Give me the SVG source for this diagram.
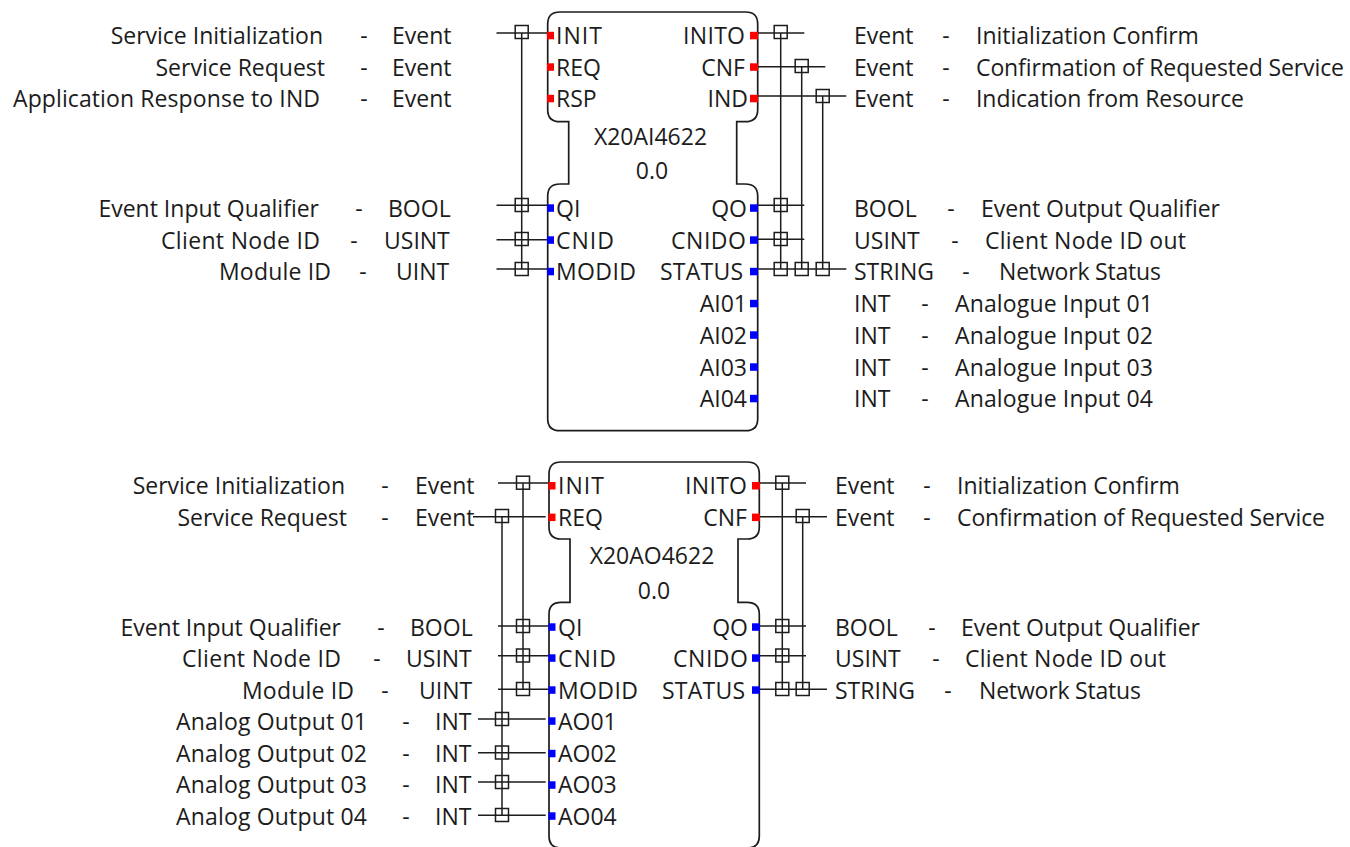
<svg xmlns="http://www.w3.org/2000/svg" width="1350" height="847" viewBox="0 0 1350 847">
<style>
text{font-family:"Open Sans","Noto Sans","Liberation Sans",sans-serif;font-size:23px;fill:#1c1c1c}
.e{text-anchor:end}.m{text-anchor:middle}
.b{fill:#fff;stroke:#1c1c1c;stroke-width:1.7}
.w path{fill:none;stroke:#1c1c1c;stroke-width:1.5}
.w use{fill:none;stroke:#1c1c1c;stroke-width:1.5}
.r{fill:#f00}.u{fill:#00f}
</style>
<defs>
<rect id="x" x="-6.5" y="-6.5" width="13" height="13"/>
<rect id="lr" class="r" x="0" y="-3.7" width="7" height="7.5"/>
<rect id="lb" class="u" x="0" y="-3.7" width="7" height="7.5"/>
<rect id="rr" class="r" x="0" y="-3.7" width="8" height="7.5"/>
<rect id="rb" class="u" x="0" y="-3.7" width="8" height="7.5"/>
</defs>
<g id="connectors" class="w">
<path d="M496.5 33H547M496.5 205.3H547M496.5 239.7H547M496.5 269H547M521.7 33V269M757 33H804.3M757 66.7H825.3M757 96H846.3M757 205.3H804.3M757 239.3H804.3M757 269H846.3M780.7 33V269M801.7 66.7V269M822.7 96V269"/>
<use href="#x" x="521.7" y="32"/><use href="#x" x="521.7" y="205"/><use href="#x" x="521.7" y="239"/><use href="#x" x="521.7" y="269"/>
<use href="#x" x="780.7" y="32"/><use href="#x" x="801.7" y="66"/><use href="#x" x="822.7" y="96"/><use href="#x" x="780.7" y="205"/><use href="#x" x="780.7" y="239"/><use href="#x" x="780.7" y="269"/><use href="#x" x="801.7" y="269"/><use href="#x" x="822.7" y="269"/>
<path d="M498 483H549M473 516.7H545.7M498 626H549M498 655.7H549M498 689.3H549M478 719H545.7M478 752.7H545.7M478 782H545.7M478 815.3H545.7M523 483V689.3M502 516.7V815.3M759 483H806M759 516.7H827M759 626H806M759 655.7H806M759 689.3H827M782.3 483V689.3M802.7 516.7V689.3"/>
<use href="#x" x="523" y="482.7"/><use href="#x" x="502" y="516"/><use href="#x" x="523" y="626"/><use href="#x" x="523" y="655.5"/><use href="#x" x="523" y="689"/><use href="#x" x="502" y="719"/><use href="#x" x="502" y="752.5"/><use href="#x" x="502" y="782"/><use href="#x" x="502" y="815"/>
<use href="#x" x="782.3" y="482.7"/><use href="#x" x="802.7" y="516"/><use href="#x" x="782.3" y="626"/><use href="#x" x="782.3" y="655.5"/><use href="#x" x="782.3" y="689"/><use href="#x" x="802.7" y="689"/>
</g>
<g id="X20AI4622">
<path class="b" d="M560 12H745.7Q757.7 12 757.7 24V109.7Q757.7 121.7 745 121.7H736.7V184H745Q757.7 184 757.7 196V418.7Q757.7 430.7 745.7 430.7H560Q547.7 430.7 547.7 418.7V196Q547.7 184 560 184H568.7V121.7H560Q547.7 121.7 547.7 109.7V24Q547.7 12 560 12Z"/>
<use href="#lr" x="547" y="35.5"/><use href="#lr" x="547" y="67"/><use href="#lr" x="547" y="98.5"/><use href="#lb" x="547" y="208"/><use href="#lb" x="547" y="240"/><use href="#lb" x="547" y="271.5"/>
<use href="#rr" x="750" y="35.5"/><use href="#rr" x="750" y="67"/><use href="#rr" x="750" y="98.5"/><use href="#rb" x="750" y="208"/><use href="#rb" x="750" y="240"/><use href="#rb" x="750" y="271.5"/><use href="#rb" x="750" y="303.5"/><use href="#rb" x="750" y="335"/><use href="#rb" x="750" y="367"/><use href="#rb" x="750" y="398.5"/>
<text x="556" y="43.5" textLength="46">INIT</text><text x="556" y="75.5">REQ</text><text x="556" y="107">RSP</text><text x="556" y="216.5">QI</text><text x="556" y="248.5" textLength="58">CNID</text><text x="556" y="280" textLength="80">MODID</text>
<text class="e" x="745" y="43.5" textLength="62">INITO</text><text class="e" x="745" y="75.5">CNF</text><text class="e" x="748" y="107">IND</text><text class="e" x="747" y="216.5">QO</text><text class="e" x="746" y="248.5" textLength="75">CNIDO</text><text class="e" x="743" y="280" textLength="83">STATUS</text><text class="e" x="747" y="311.5">AI01</text><text class="e" x="747" y="343.5">AI02</text><text class="e" x="747" y="375.5">AI03</text><text class="e" x="747" y="407">AI04</text>
<text class="m" x="650.5" y="145">X20AI4622</text><text class="m" x="652" y="178.5">0.0</text>
</g>
<g id="X20AO4622">
<path class="b" d="M561 462H747.3Q759.3 462 759.3 474V527Q759.3 539 747 539H738V602.3H747Q759.3 602.3 759.3 614.3V836Q759.3 848 747.3 848H561Q549 848 549 836V614.3Q549 602.3 561 602.3H570V539H561Q549 539 549 527V474Q549 462 561 462Z"/>
<use href="#lr" x="548.5" y="485.7"/><use href="#lr" x="548.5" y="517.3"/><use href="#lb" x="548.5" y="627"/><use href="#lb" x="548.5" y="658"/><use href="#lb" x="548.5" y="690"/><use href="#lb" x="548.5" y="721"/><use href="#lb" x="548.5" y="753.5"/><use href="#lb" x="548.5" y="785"/><use href="#lb" x="548.5" y="816"/>
<use href="#rr" x="752" y="485.7"/><use href="#rr" x="752" y="517.3"/><use href="#rb" x="752" y="627"/><use href="#rb" x="752" y="658"/><use href="#rb" x="752" y="690"/>
<text x="558" y="494" textLength="46">INIT</text><text x="558" y="526">REQ</text><text x="558" y="635.5">QI</text><text x="558" y="666.5" textLength="58">CNID</text><text x="558" y="698.5" textLength="80">MODID</text><text x="558" y="730">AO01</text><text x="558" y="761.5">AO02</text><text x="558" y="793">AO03</text><text x="558" y="825">AO04</text>
<text class="e" x="747" y="494" textLength="62">INITO</text><text class="e" x="747" y="526">CNF</text><text class="e" x="748" y="635.5">QO</text><text class="e" x="748" y="666.5" textLength="75">CNIDO</text><text class="e" x="745" y="698.5" textLength="83">STATUS</text>
<text class="m" x="652" y="564">X20AO4622</text><text class="m" x="654" y="598.5">0.0</text>
</g>
<g id="labels-ai">
<text class="e" x="323" y="43.5">Service Initialization</text><text class="m" x="364" y="43.5">-</text><text x="392" y="43.5">Event</text>
<text class="e" x="325" y="75.5">Service Request</text><text class="m" x="364" y="75.5">-</text><text x="392" y="75.5">Event</text>
<text class="e" x="320" y="106.5" textLength="307">Application Response to IND</text><text class="m" x="364" y="106.5">-</text><text x="392" y="106.5">Event</text>
<text class="e" x="319" y="216.5">Event Input Qualifier</text><text class="m" x="359" y="216.5">-</text><text x="388" y="216.5">BOOL</text>
<text class="e" x="320" y="248.5" textLength="159">Client Node ID</text><text class="m" x="354" y="248.5">-</text><text x="384" y="248.5">USINT</text>
<text class="e" x="331" y="280" textLength="112">Module ID</text><text class="m" x="363" y="280">-</text><text x="396" y="280">UINT</text>
<text x="854" y="43.5">Event</text><text class="m" x="946" y="43.5">-</text><text x="976" y="43.5">Initialization Confirm</text>
<text x="854" y="75.5">Event</text><text class="m" x="946" y="75.5">-</text><text x="976" y="75.5" textLength="368">Confirmation of Requested Service</text>
<text x="854" y="106.5">Event</text><text class="m" x="946" y="106.5">-</text><text x="976" y="106.5" textLength="268">Indication from Resource</text>
<text x="854" y="216.5">BOOL</text><text class="m" x="951" y="216.5">-</text><text x="981" y="216.5" textLength="239">Event Output Qualifier</text>
<text x="854" y="248.5">USINT</text><text class="m" x="955" y="248.5">-</text><text x="985" y="248.5" textLength="201">Client Node ID out</text>
<text x="854" y="280">STRING</text><text class="m" x="966" y="280">-</text><text x="999" y="280" textLength="162">Network Status</text>
<text x="854" y="311.5">INT</text><text class="m" x="925" y="311.5">-</text><text x="955" y="311.5" textLength="198">Analogue Input 01</text>
<text x="854" y="343.5">INT</text><text class="m" x="925" y="343.5">-</text><text x="955" y="343.5" textLength="198">Analogue Input 02</text>
<text x="854" y="375.5">INT</text><text class="m" x="925" y="375.5">-</text><text x="955" y="375.5" textLength="198">Analogue Input 03</text>
<text x="854" y="407">INT</text><text class="m" x="925" y="407">-</text><text x="955" y="407" textLength="198">Analogue Input 04</text>
</g>
<g id="labels-ao">
<text class="e" x="345" y="494">Service Initialization</text><text class="m" x="385" y="494">-</text><text x="415" y="494">Event</text>
<text class="e" x="347" y="526">Service Request</text><text class="m" x="385" y="526">-</text><text x="415" y="526">Event</text>
<text class="e" x="341" y="635.5">Event Input Qualifier</text><text class="m" x="381" y="635.5">-</text><text x="410" y="635.5">BOOL</text>
<text class="e" x="341" y="666.5" textLength="159">Client Node ID</text><text class="m" x="377" y="666.5">-</text><text x="406" y="666.5">USINT</text>
<text class="e" x="354" y="698.5" textLength="112">Module ID</text><text class="m" x="385" y="698.5">-</text><text x="419" y="698.5">UINT</text>
<text class="e" x="367" y="730" textLength="191">Analog Output 01</text><text class="m" x="406" y="730">-</text><text x="435" y="730">INT</text>
<text class="e" x="367" y="761.5" textLength="191">Analog Output 02</text><text class="m" x="406" y="761.5">-</text><text x="435" y="761.5">INT</text>
<text class="e" x="367" y="793" textLength="191">Analog Output 03</text><text class="m" x="406" y="793">-</text><text x="435" y="793">INT</text>
<text class="e" x="367" y="825" textLength="191">Analog Output 04</text><text class="m" x="406" y="825">-</text><text x="435" y="825">INT</text>
<text x="835" y="494">Event</text><text class="m" x="927" y="494">-</text><text x="957" y="494">Initialization Confirm</text>
<text x="835" y="526">Event</text><text class="m" x="927" y="526">-</text><text x="957" y="526" textLength="368">Confirmation of Requested Service</text>
<text x="835" y="635.5">BOOL</text><text class="m" x="932" y="635.5">-</text><text x="961" y="635.5" textLength="239">Event Output Qualifier</text>
<text x="835" y="666.5">USINT</text><text class="m" x="936" y="666.5">-</text><text x="965" y="666.5" textLength="201">Client Node ID out</text>
<text x="835" y="698.5">STRING</text><text class="m" x="948" y="698.5">-</text><text x="979" y="698.5" textLength="162">Network Status</text>
</g>
</svg>
